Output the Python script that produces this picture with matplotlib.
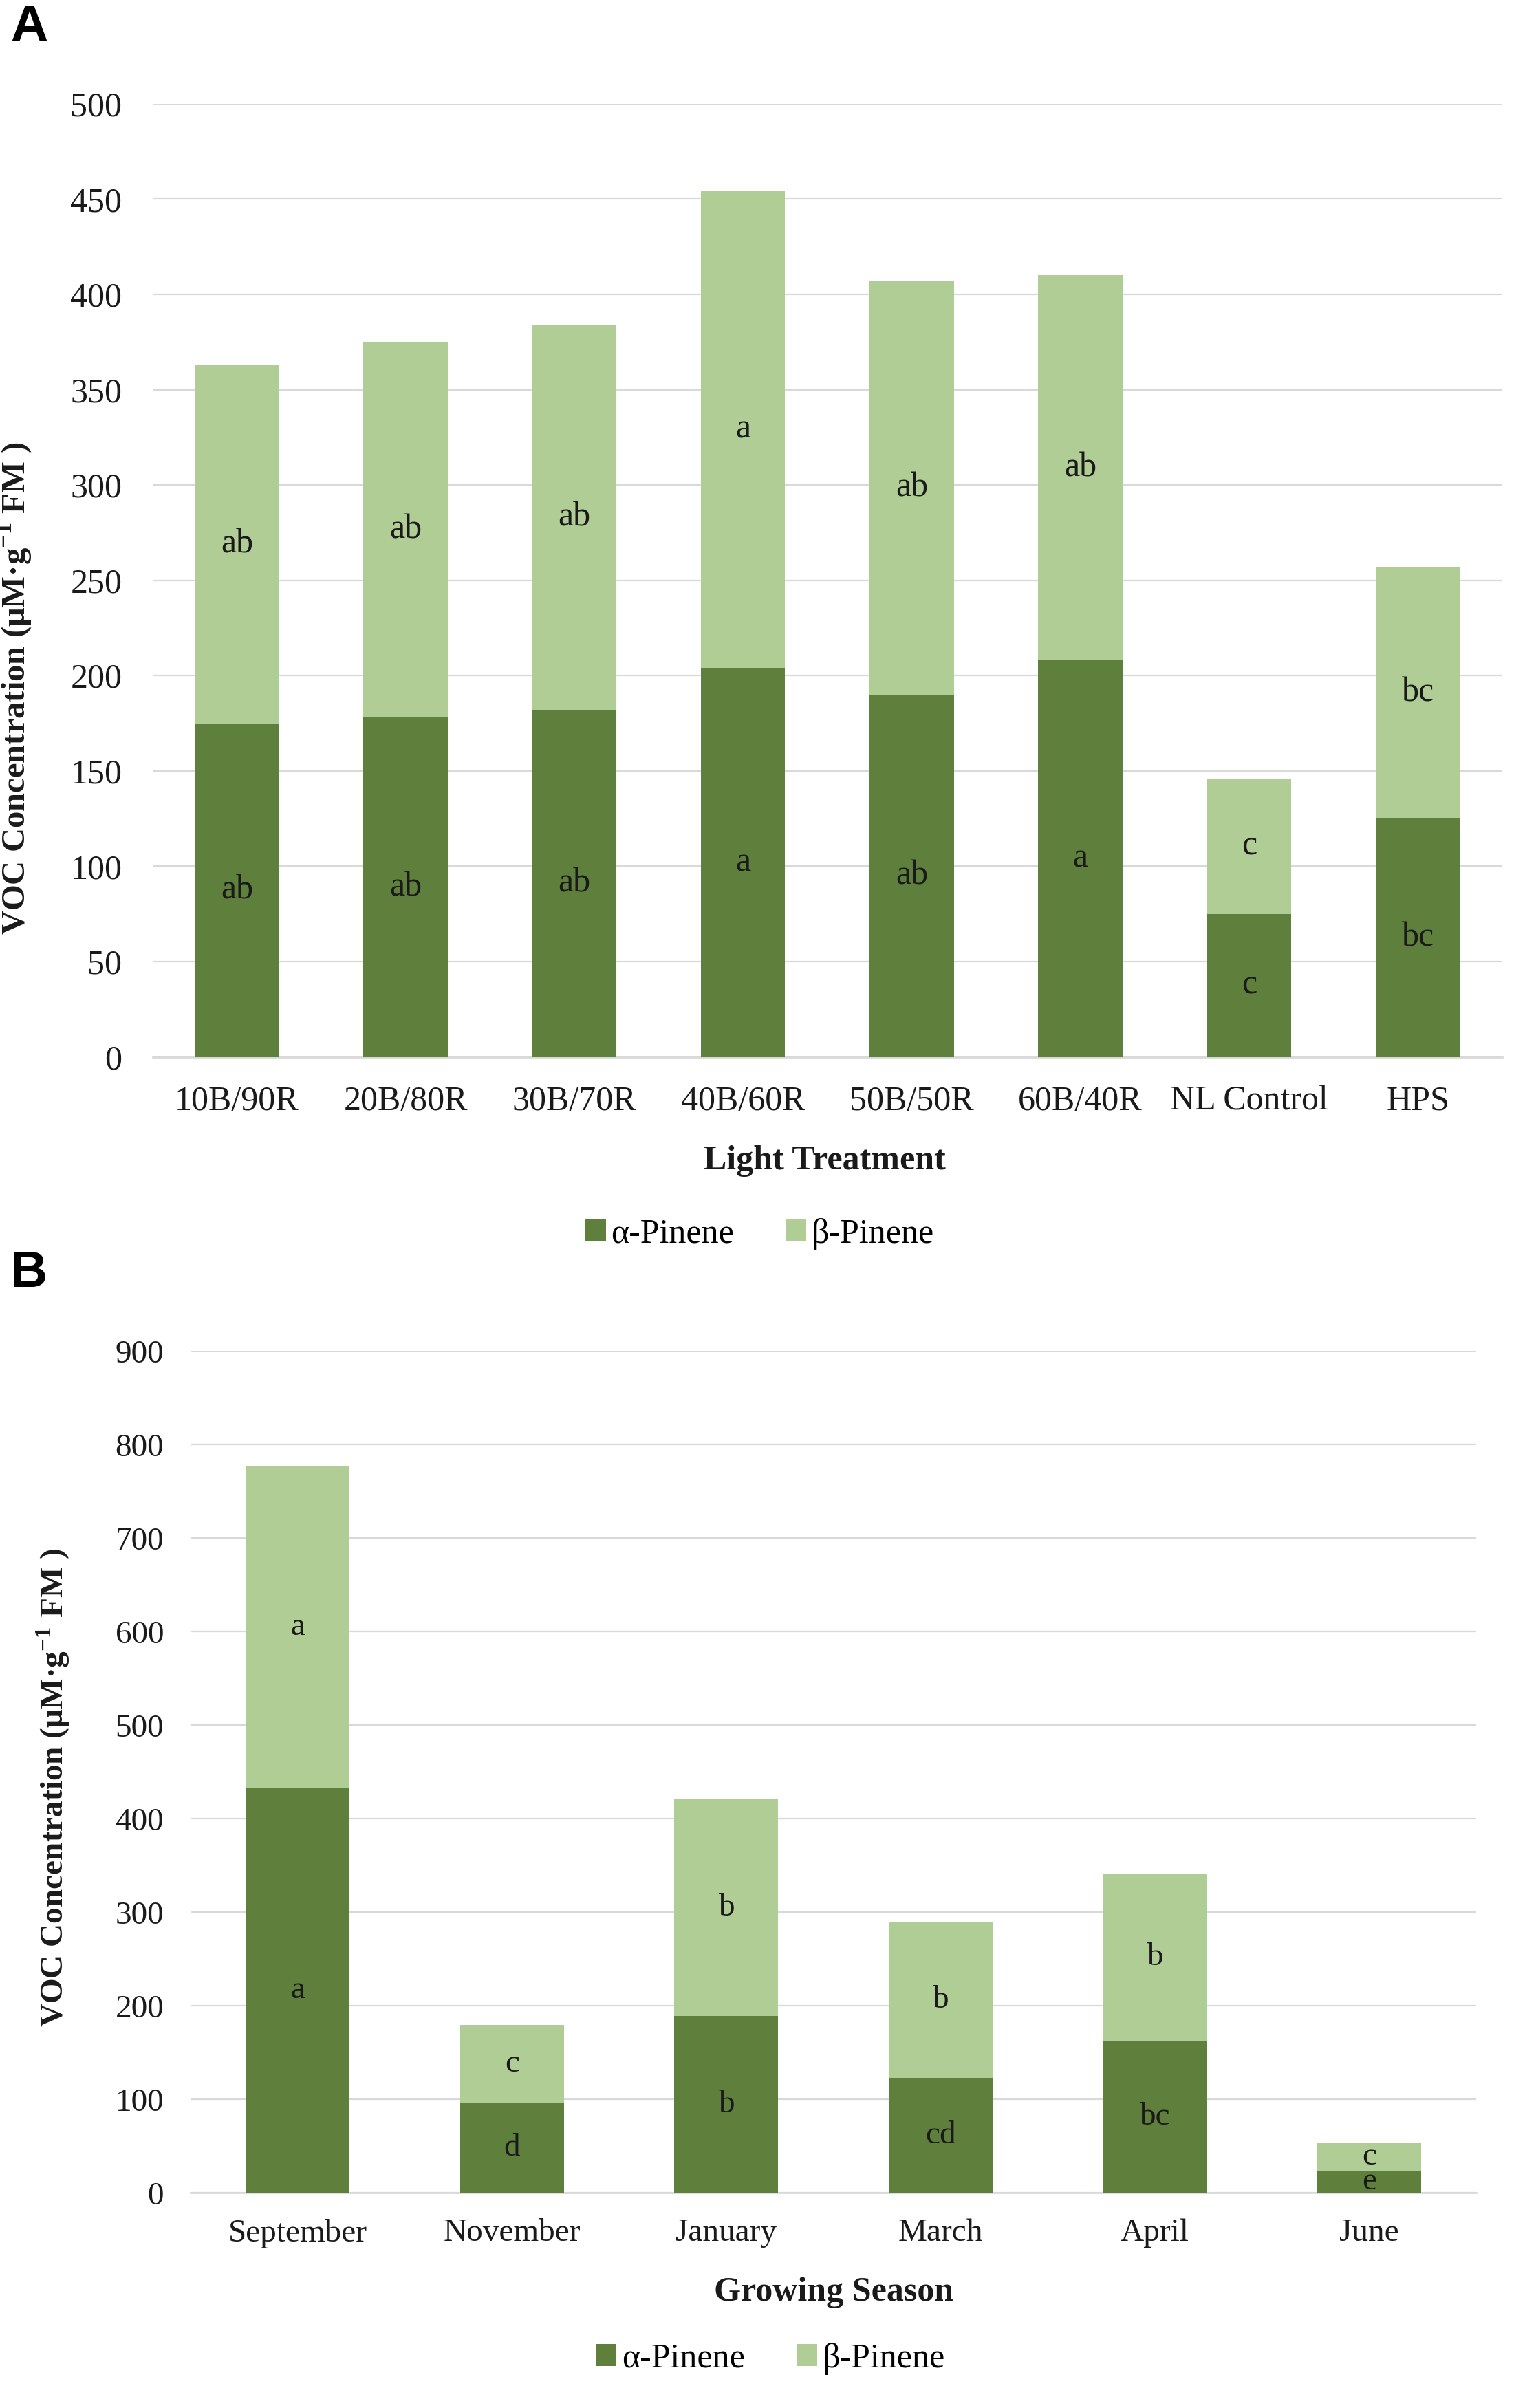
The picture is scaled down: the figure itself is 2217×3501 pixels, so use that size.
import matplotlib
matplotlib.use("Agg")
import matplotlib.pyplot as plt
import numpy as np

# panel A: light treatments
treatments = ["10B/90R", "20B/80R", "30B/70R", "40B/60R", "50B/50R", "60B/40R", "NL Control", "HPS"]
alpha_a = [175, 178, 182, 204, 190, 208, 75, 125]
beta_a = [188, 197, 202, 250, 217, 202, 71, 132]
alpha_a_sig = ["ab", "ab", "ab", "a", "ab", "a", "c", "bc"]
beta_a_sig = ["ab", "ab", "ab", "a", "ab", "ab", "c", "bc"]

# panel B: growing season
months = ["September", "November", "January", "March", "April", "June"]
alpha_b = [433, 96, 189, 123, 163, 24]
beta_b = [344, 84, 232, 167, 178, 30]
alpha_b_sig = ["a", "d", "b", "cd", "bc", "e"]
beta_b_sig = ["a", "c", "b", "b", "b", "c"]

dark = "#5F7F3C"
light = "#AFCD94"
grid = "#D9D9D9"
txt = "#1a1a1a"

plt.rcParams["font.family"] = ["Liberation Serif", "DejaVu Serif"]
plt.rcParams["mathtext.fontset"] = "custom"
plt.rcParams["mathtext.rm"] = "Liberation Serif"
plt.rcParams["mathtext.bf"] = "Liberation Serif:bold"

fig = plt.figure(figsize=(11.085, 17.505), dpi=200)
H = 1579.0


def frac_box(l, r, top, bot):
    return [l / 1000, 1 - bot / H, (r - l) / 1000, (bot - top) / H]


def draw(ax, cats, a, b, a_sig, b_sig, ymax, step, width, fs, tpad, ypad):
    x = np.arange(len(cats))
    a = np.array(a)
    b = np.array(b)
    ax.bar(x, a, width=width, color=dark, zorder=3, label="α-Pinene")
    ax.bar(x, b, width=width, bottom=a, color=light, zorder=3, label="β-Pinene")
    for i in range(len(cats)):
        ax.text(x[i], a[i] / 2, a_sig[i], ha="center", va="center", fontsize=fs, color=txt, zorder=4)
        ax.text(x[i], a[i] + b[i] / 2, b_sig[i], ha="center", va="center", fontsize=fs, color=txt, zorder=4)
    ax.set_xlim(-0.5, len(cats) - 0.5)
    ax.set_ylim(0, ymax)
    ax.set_yticks(np.arange(0, ymax + 1, step))
    ax.set_xticks(x)
    ax.set_xticklabels(cats)
    ax.yaxis.grid(True, color=grid, linewidth=0.8, zorder=0)
    ax.set_axisbelow(True)
    for s in ["top", "right", "left"]:
        ax.spines[s].set_visible(False)
    ax.spines["bottom"].set_color(grid)
    ax.spines["bottom"].set_linewidth(1.0)
    ax.tick_params(axis="both", length=0, labelsize=fs, colors=txt)
    ax.tick_params(axis="x", pad=tpad)
    ax.tick_params(axis="y", pad=ypad)


ylab = r"VOC Concentration (μM·g$^{\mathbf{-1}}$ FM )"

# panel A
axA = fig.add_axes(frac_box(100, 985, 68, 693))
draw(axA, treatments, alpha_a, beta_a, alpha_a_sig, beta_a_sig, 500, 50, 0.5, 18, 15, 16)
axA.set_xlabel("Light Treatment", fontsize=18, fontweight="bold", color=txt)
axA.xaxis.set_label_coords(0.498, -0.093)
axA.set_ylabel(ylab, fontsize=17.5, fontweight="bold", color=txt)
axA.yaxis.set_label_coords(-0.088, 0.387)
axA.legend(loc="center", bbox_to_anchor=(0.45, -0.186), ncol=2, frameon=False, fontsize=18,
           handlelength=0.6, handleheight=0.6, handletextpad=0.15, columnspacing=1.5)

# panel B
axB = fig.add_axes(frac_box(125, 968, 886, 1438))
draw(axB, months, alpha_b, beta_b, alpha_b_sig, beta_b_sig, 900, 100, 0.485, 17, 13.5, 14)
axB.set_xlabel("Growing Season", fontsize=18, fontweight="bold", color=txt)
axB.xaxis.set_label_coords(0.5, -0.0996)
axB.set_ylabel(ylab, fontsize=17, fontweight="bold", color=txt)
axB.yaxis.set_label_coords(-0.0925, 0.482)
axB.legend(loc="center", bbox_to_anchor=(0.451, -0.197), ncol=2, frameon=False, fontsize=18,
           handlelength=0.6, handleheight=0.6, handletextpad=0.15, columnspacing=1.5)

fig.text(0.019, 1 - 18 / H, "A", fontsize=27, fontweight="bold", family="Liberation Sans",
         ha="center", va="center", color="black")
fig.text(0.019, 1 - 835 / H, "B", fontsize=27, fontweight="bold", family="Liberation Sans",
         ha="center", va="center", color="black")

fig.savefig("out.png", dpi=200, facecolor="white")
